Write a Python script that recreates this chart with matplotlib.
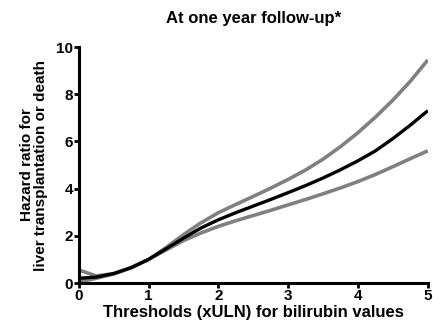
import matplotlib.pyplot as plt

plt.rcParams['font.family'] = ['Liberation Sans', 'DejaVu Sans']

# bilirubin threshold (xULN) and hazard ratio with 95% CI
thresholds = [0, 0.25, 0.5, 0.75, 1, 1.25, 1.5, 1.75, 2, 2.25, 2.5, 2.75,
              3, 3.25, 3.5, 3.75, 4, 4.25, 4.5, 4.75, 5]
hr = [0.2, 0.25, 0.4, 0.65, 1.0, 1.45, 1.9, 2.33, 2.68, 2.98, 3.26, 3.54,
      3.83, 4.13, 4.45, 4.8, 5.18, 5.6, 6.12, 6.69, 7.3]
hr_upper = [0.55, 0.3, 0.4, 0.65, 1.0, 1.5, 2.05, 2.55, 2.98, 3.33, 3.67, 4.02,
            4.39, 4.79, 5.25, 5.78, 6.37, 7.03, 7.75, 8.55, 9.45]
hr_lower = [0.05, 0.2, 0.38, 0.65, 1.0, 1.4, 1.8, 2.12, 2.4, 2.64, 2.86, 3.08,
            3.31, 3.54, 3.78, 4.03, 4.3, 4.6, 4.93, 5.27, 5.6]

x_ticks = [0, 1, 2, 3, 4, 5]
y_ticks = [0, 2, 4, 6, 8, 10]

fig = plt.figure(figsize=(4.33, 3.31), dpi=100)
ax = fig.add_axes([0.182, 0.145, 0.806, 0.713])

ax.plot(thresholds, hr_upper, color='#808080', lw=2.6, solid_capstyle='butt')
ax.plot(thresholds, hr_lower, color='#808080', lw=2.6, solid_capstyle='butt')
ax.plot(thresholds, hr, color='#000000', lw=2.4, solid_capstyle='butt')

ax.set_xlim(0, 5)
ax.set_ylim(0, 10)
ax.set_xticks(x_ticks)
ax.set_yticks(y_ticks)
for spine in ('top', 'right'):
    ax.spines[spine].set_visible(False)
for spine in ('left', 'bottom'):
    ax.spines[spine].set_linewidth(2.2)
ax.tick_params(width=2, length=3.5, labelsize=11, pad=0.5)
for lab in ax.get_xticklabels() + ax.get_yticklabels():
    lab.set_fontweight('bold')

ax.set_xlabel('Thresholds (xULN) for bilirubin values', fontsize=12,
              fontweight='bold', labelpad=2)
ax.set_ylabel('Hazard ratio for\nliver transplantation or death', fontsize=11,
              fontweight='bold', linespacing=1.0)
ax.yaxis.set_label_coords(-0.087, 0.5)
ax.set_title('At one year follow-up*', fontsize=12, fontweight='bold', pad=17)

fig.savefig('out.png', dpi=100)
